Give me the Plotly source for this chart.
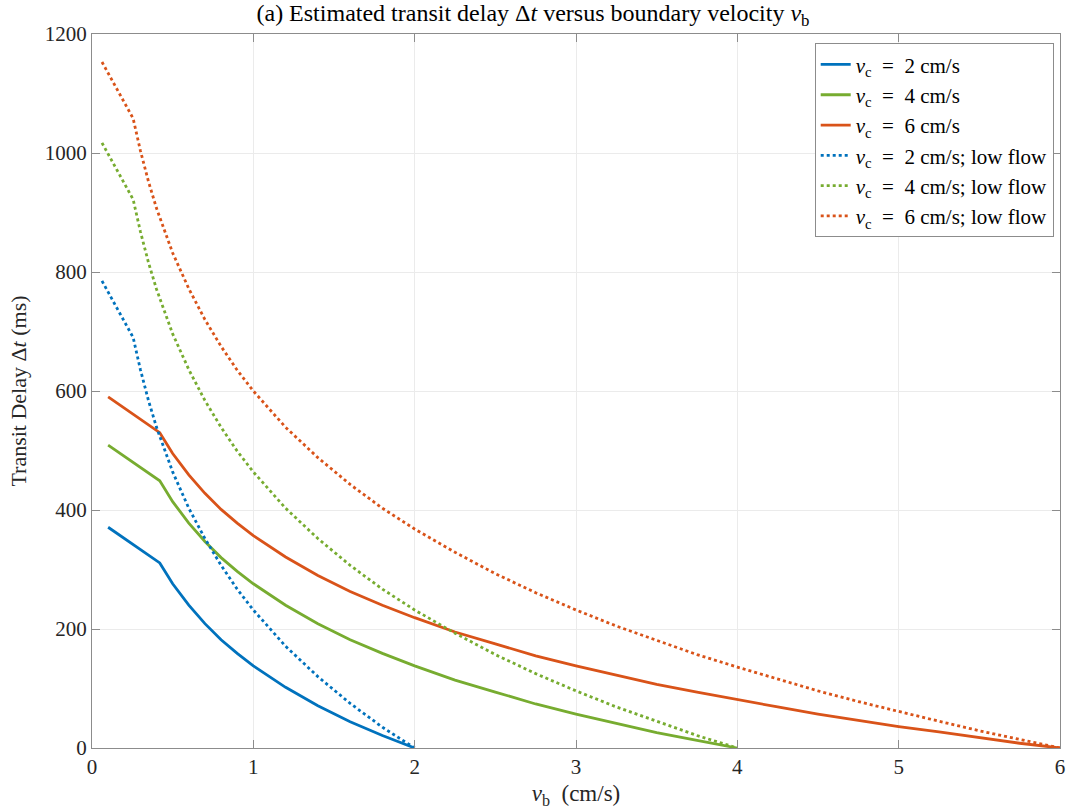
import plotly.graph_objects as go

# ---- data ----
vb_solid_2 = [0.1, 0.42, 0.5, 0.6, 0.7, 0.8, 0.9, 1.0, 1.2, 1.4, 1.6, 1.8, 2.0]
dt_solid_2 = [371, 311, 276, 240, 209, 182, 159, 138, 102, 71, 44, 21, 0]

vb_solid_4 = [0.1, 0.42, 0.5, 0.6, 0.7, 0.8, 0.9, 1.0, 1.2, 1.4, 1.6, 1.8, 2.0,
              2.25, 2.5, 2.75, 3.0, 3.25, 3.5, 3.75, 4.0]
dt_solid_4 = [509, 449, 414, 378, 347, 320, 297, 276, 240, 209, 182, 159, 138,
              114, 94, 74, 57, 41, 26, 13, 0]

vb_solid_6 = [0.1, 0.42, 0.5, 0.6, 0.7, 0.8, 0.9, 1.0, 1.2, 1.4, 1.6, 1.8, 2.0,
              2.25, 2.5, 2.75, 3.0, 3.25, 3.5, 3.75, 4.0, 4.25, 4.5, 4.75, 5.0,
              5.25, 5.5, 5.75, 6.0]
dt_solid_6 = [590, 530, 495, 459, 428, 401, 378, 357, 321, 290, 263, 240, 219,
              195, 175, 155, 138, 122, 107, 94, 81, 69, 57, 46, 36,
              27, 17, 8, 0]

vb_low_2 = [0.062, 0.255, 0.3, 0.35, 0.4, 0.5, 0.6, 0.7, 0.8, 0.9, 1.0, 1.2,
            1.4, 1.6, 1.8, 2.0]
dt_low_2 = [785, 690, 636, 584, 539, 464, 403, 352, 307, 267, 232, 171,
            120, 75, 35, 0]

vb_low_4 = [0.062, 0.255, 0.3, 0.35, 0.4, 0.5, 0.6, 0.7, 0.8, 0.9, 1.0, 1.2,
            1.4, 1.6, 1.8, 2.0, 2.25, 2.5, 2.75, 3.0, 3.25, 3.5, 3.75, 4.0]
dt_low_4 = [1017, 922, 868, 816, 771, 696, 636, 584, 539, 499, 464, 403,
            352, 307, 267, 232, 193, 157, 125, 96, 69, 45, 21, 0]

vb_low_6 = [0.062, 0.255, 0.3, 0.35, 0.4, 0.5, 0.6, 0.7, 0.8, 0.9, 1.0, 1.2,
            1.4, 1.6, 1.8, 2.0, 2.25, 2.5, 2.75, 3.0, 3.25, 3.5, 3.75, 4.0,
            4.25, 4.5, 4.75, 5.0, 5.25, 5.5, 5.75, 6.0]
dt_low_6 = [1153, 1058, 1004, 952, 907, 832, 772, 720, 675, 635, 600, 539,
            488, 443, 403, 368, 329, 293, 261, 232, 205, 181, 157, 136,
            116, 96, 78, 61, 45, 29, 14, 0]

x_ticks = [0, 1, 2, 3, 4, 5, 6]
y_ticks = [0, 200, 400, 600, 800, 1000, 1200]

BLUE = "#0072BD"
GREEN = "#77AC30"
RED = "#D95319"
FONT = "Liberation Serif"
EQ = "\u2002=\u2002"

series = [
    (vb_solid_2, dt_solid_2, BLUE, "solid", f"<i>v</i><sub>c</sub>{EQ}2 cm/s"),
    (vb_solid_4, dt_solid_4, GREEN, "solid", f"<i>v</i><sub>c</sub>{EQ}4 cm/s"),
    (vb_solid_6, dt_solid_6, RED, "solid", f"<i>v</i><sub>c</sub>{EQ}6 cm/s"),
    (vb_low_2, dt_low_2, BLUE, "dot", f"<i>v</i><sub>c</sub>{EQ}2 cm/s; low flow"),
    (vb_low_4, dt_low_4, GREEN, "dot", f"<i>v</i><sub>c</sub>{EQ}4 cm/s; low flow"),
    (vb_low_6, dt_low_6, RED, "dot", f"<i>v</i><sub>c</sub>{EQ}6 cm/s; low flow"),
]

fig = go.Figure()
for x, y, c, d, name in series:
    fig.add_trace(go.Scatter(x=x, y=y, mode="lines", name=name,
                             line=dict(color=c, width=2.8, dash=d)))

axis_common = dict(
    showgrid=True, gridcolor="#ebebeb", gridwidth=1,
    showline=True, linecolor="#8c8c8c", linewidth=1, mirror="ticks",
    ticks="inside", ticklen=8, tickcolor="#8c8c8c",
    zeroline=False, automargin=False,
    tickfont=dict(family=FONT, size=21, color="#262626"),
)

fig.update_layout(
    width=1066, height=811,
    margin=dict(l=92, r=6, t=34, b=63),
    paper_bgcolor="white", plot_bgcolor="white",
    font=dict(family=FONT, color="#262626"),
    title=dict(text="(a) Estimated transit delay Δ<i>t</i> versus boundary velocity <i>v</i><sub>b</sub>",
               x=0.5, xref="container", xanchor="center", y=0.985, yanchor="middle",
               font=dict(family=FONT, size=24, color="#000000")),
    xaxis=dict(range=[0, 6], tickvals=x_ticks, ticktext=[str(v) for v in x_ticks],
               title=dict(text="<i>v</i><sub>b</sub>\u2002(cm/s)", standoff=6,
                          font=dict(family=FONT, size=23, color="#262626")),
               **axis_common),
    yaxis=dict(range=[0, 1200], tickvals=y_ticks, ticktext=[str(v) for v in y_ticks],
               title=dict(text="Transit Delay Δ<i>t</i> (ms)", standoff=12,
                          font=dict(family=FONT, size=22, color="#262626")),
               **axis_common),
    legend=dict(x=0.9935, y=0.987, xanchor="right", yanchor="top",
                bgcolor="white", bordercolor="#8c8c8c", borderwidth=1,
                font=dict(family=FONT, size=21, color="#000000"),
                tracegroupgap=0, itemwidth=30),
    showlegend=True,
)

fig.write_html("out.html")
